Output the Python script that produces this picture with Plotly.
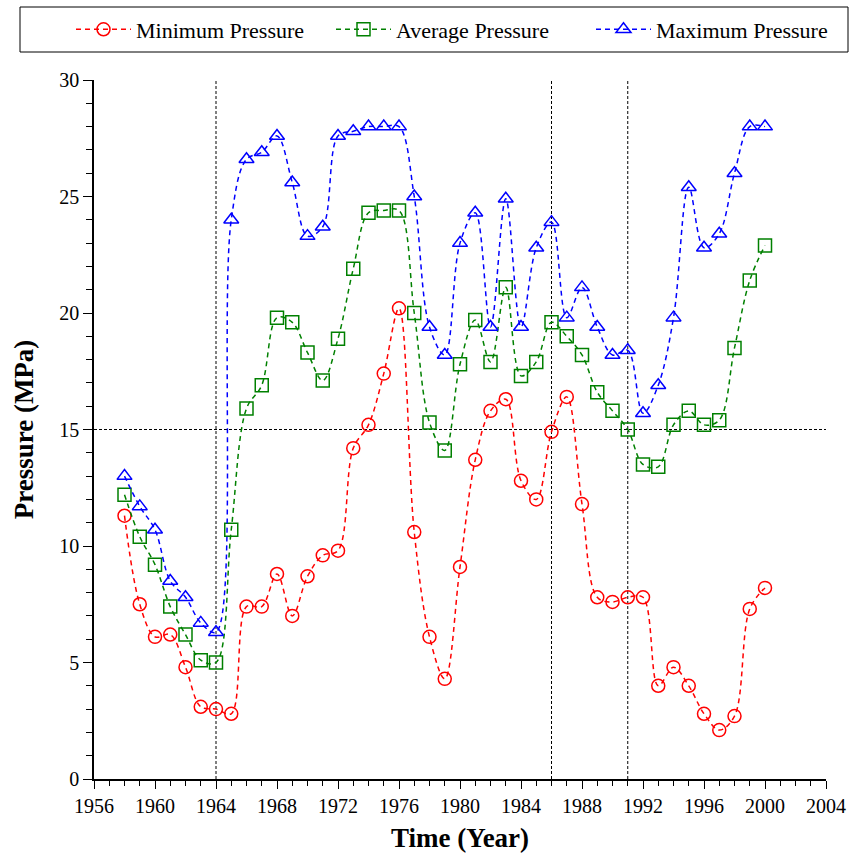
import plotly.graph_objects as go

years = list(range(1958, 2001))
min_pressure = [11.3, 7.5, 6.1, 6.2, 4.8, 3.1, 3.0, 2.8, 7.4, 7.4, 8.8, 7.0, 8.7, 9.6, 9.8,
                14.2, 15.2, 17.4, 20.2, 10.6, 6.1, 4.3, 9.1, 13.7, 15.8, 16.3, 12.8, 12.0,
                14.9, 16.4, 11.8, 7.8, 7.6, 7.8, 7.8, 4.0, 4.8, 4.0, 2.8, 2.1, 2.7, 7.3, 8.2]
avg_pressure = [12.2, 10.4, 9.2, 7.4, 6.2, 5.1, 5.0, 10.7, 15.9, 16.9, 19.8, 19.6, 18.3, 17.1,
                18.9, 21.9, 24.3, 24.4, 24.4, 20.0, 15.3, 14.1, 17.8, 19.7, 17.9, 21.1, 17.3,
                17.9, 19.6, 19.0, 18.2, 16.6, 15.8, 15.0, 13.5, 13.4, 15.2, 15.8, 15.2, 15.4,
                18.5, 21.4, 22.9]
max_pressure = [13.0, 11.7, 10.7, 8.5, 7.8, 6.7, 6.3, 24.0, 26.6, 26.9, 27.6, 25.6, 23.3, 23.7,
                27.6, 27.8, 28.0, 28.0, 28.0, 25.0, 19.4, 18.2, 23.0, 24.3, 19.4, 24.9, 19.4,
                22.8, 23.9, 19.8, 21.1, 19.4, 18.2, 18.4, 15.7, 16.9, 19.8, 25.4, 22.8, 23.4,
                26.0, 28.0, 28.0]
ref_years = [1964, 1986, 1991]
ref_pressure = 15
x_ticks = list(range(1956, 2005, 4))
y_ticks = list(range(0, 31, 5))

series = [
    ("Minimum Pressure", min_pressure, "red", "circle-open"),
    ("Average Pressure", avg_pressure, "green", "square-open"),
    ("Maximum Pressure", max_pressure, "blue", "triangle-up-open"),
]

fig = go.Figure()
for name, vals, color, sym in series:
    fig.add_trace(go.Scatter(
        x=years, y=vals, name=name, mode="lines+markers",
        line=dict(color=color, width=1.5, dash="5px,4px", shape="spline", smoothing=1.0),
        marker=dict(symbol=sym, size=13, color=color, line=dict(color=color, width=1.5)),
    ))

for yr in ref_years:
    fig.add_shape(type="line", xref="x", yref="y", x0=yr, x1=yr, y0=0, y1=30,
                  line=dict(color="black", width=1, dash="3px,2px"), layer="below")
fig.add_shape(type="line", xref="x", yref="y", x0=1956, x1=2004, y0=ref_pressure, y1=ref_pressure,
              line=dict(color="black", width=1, dash="3px,2px"), layer="below")

# plot area spans 94..826 px horizontally, 80..779 px vertically
PX_L, PX_W, PX_B, PX_H = 94, 732, 779, 699

# legend frame
fig.add_shape(type="rect", xref="paper", yref="paper",
              x0=(20 - PX_L) / PX_W, x1=(848 - PX_L) / PX_W,
              y0=(PX_B - 52) / PX_H, y1=(PX_B - 7) / PX_H,
              line=dict(color="black", width=1), fillcolor="rgba(0,0,0,0)")

font_family = "Liberation Serif, Times New Roman, serif"
fig.update_layout(
    width=855, height=863,
    margin=dict(l=94, r=29, t=80, b=84, autoexpand=False),
    paper_bgcolor="white", plot_bgcolor="white",
    font=dict(family=font_family, color="black", size=20),
    showlegend=True,
    legend=dict(
        orientation="h", xref="paper", yref="paper",
        x=(71 - PX_L) / PX_W, xanchor="left", y=(PX_B - 29.5) / PX_H, yanchor="middle",
        borderwidth=0, bgcolor="rgba(0,0,0,0)",
        font=dict(size=22, family=font_family), entrywidth=190, itemwidth=55,
    ),
    xaxis=dict(
        range=[1956, 2004], tickmode="array", tickvals=x_ticks,
        showline=True, linecolor="black", linewidth=1.5, showgrid=False, zeroline=False,
        ticks="outside", ticklen=8, tickcolor="black", tickwidth=1,
        minor=dict(dtick=1, ticks="outside", ticklen=5, tickcolor="black", tickwidth=1, showgrid=False),
        tickfont=dict(size=20),
        title=dict(text="<b>Time (Year)</b>", font=dict(size=27), standoff=12),
    ),
    yaxis=dict(
        range=[0, 30], tickmode="array", tickvals=y_ticks,
        showline=True, linecolor="black", linewidth=1.5, showgrid=False, zeroline=False,
        ticks="outside", ticklen=9, tickcolor="black", tickwidth=1,
        minor=dict(dtick=1, ticks="outside", ticklen=6, tickcolor="black", tickwidth=1, showgrid=False),
        tickfont=dict(size=20),
        title=dict(text="<b>Pressure (MPa)</b>", font=dict(size=27), standoff=18),
    ),
)

fig.write_html("out.html")
